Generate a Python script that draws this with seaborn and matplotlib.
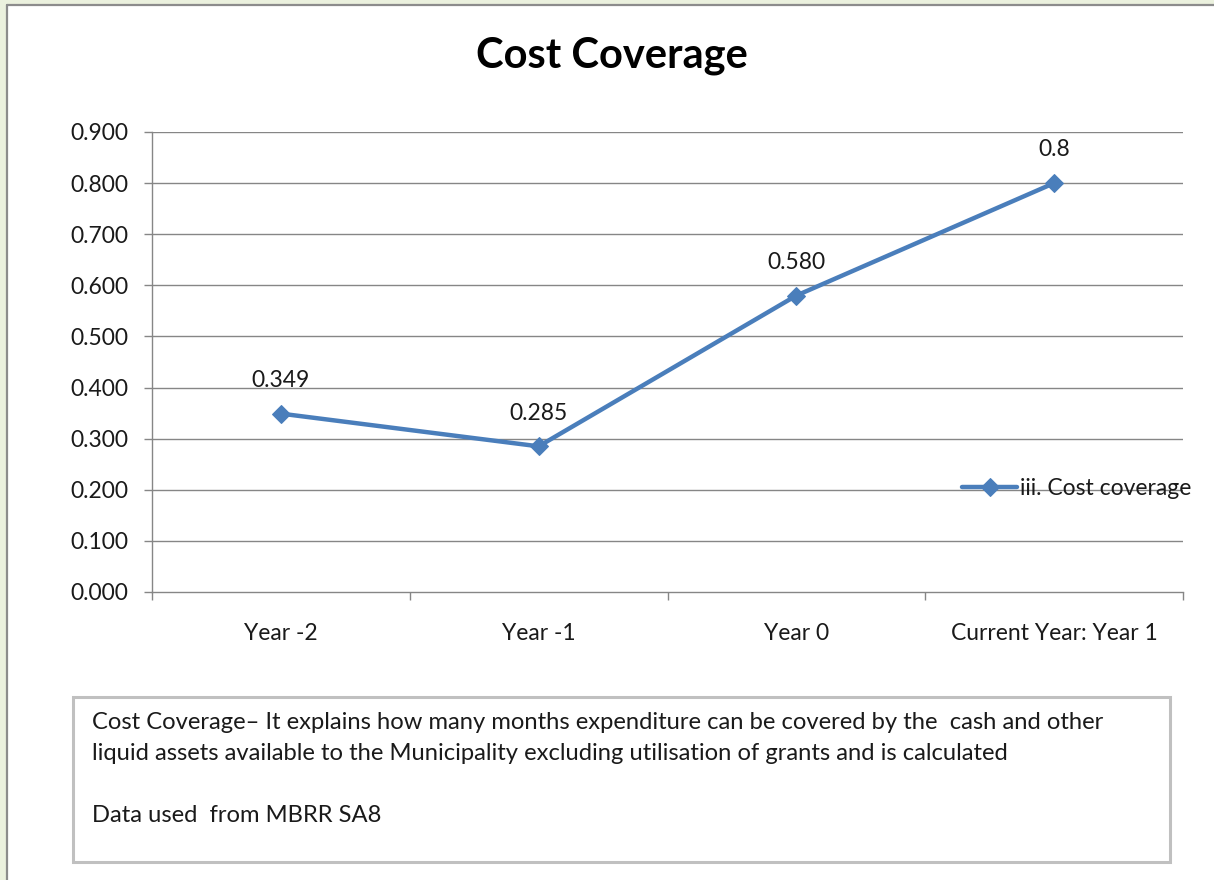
import matplotlib
matplotlib.use("Agg")
import matplotlib.pyplot as plt
from matplotlib.patches import Rectangle
from matplotlib.lines import Line2D
import seaborn as sns
import pandas as pd

# Cost coverage ratio per financial year
years = ["Year -2", "Year -1", "Year 0", "Current Year: Year 1"]
coverage = [0.349, 0.285, 0.580, 0.8]
value_labels = ["0.349", "0.285", "0.580", "0.8"]
y_ticks = [0.0, 0.1, 0.2, 0.3, 0.4, 0.5, 0.6, 0.7, 0.8, 0.9]
series_name = "iii. Cost coverage"
note_lines = [
    "Cost Coverage\u2013 It explains how many months expenditure can be covered by the  cash and other",
    "liquid assets available to the Municipality excluding utilisation of grants and is calculated",
    "",
    "Data used  from MBRR SA8",
]

sns.set_theme(style="white")
plt.rcParams["font.family"] = ["Lato", "DejaVu Sans"]

LINE_BLUE = "#4a7ebb"
GRID = "#868686"
TEXT = "#1a1a1a"
FS = 16.5
NOTE_FS = 17.1

W, H = 1214, 880
fig = plt.figure(figsize=(W / 100, H / 100), dpi=100)
fig.patch.set_facecolor("#ebf1de")

# white chart area with grey border on top and left
fig.patches.append(Rectangle((7 / W, 0), 1 - 7 / W, 1 - 5 / H, transform=fig.transFigure,
                             facecolor="white", edgecolor="none", zorder=-10))
fig.lines.append(Line2D([7 / W, 7 / W], [0, 1 - 5 / H], transform=fig.transFigure,
                        color="#8c8c8c", lw=1.6))
fig.lines.append(Line2D([7 / W, 1], [1 - 5 / H, 1 - 5 / H], transform=fig.transFigure,
                        color="#8c8c8c", lw=1.6))

ax = fig.add_axes([152 / W, 1 - 592 / H, (1183 - 152) / W, (592 - 132) / H])
ax.set_facecolor("none")

df = pd.DataFrame({"year": years, "coverage": coverage})
sns.lineplot(data=df, x="year", y="coverage", sort=False, ax=ax, color=LINE_BLUE,
             lw=3.2, marker="D", markersize=9, markeredgecolor=LINE_BLUE,
             label=series_name, zorder=3)

ax.set_xlim(-0.5, len(years) - 0.5)
ax.set_ylim(0, 0.9)
ax.set_yticks(y_ticks)
ax.set_yticklabels([f"{v:.3f}" for v in y_ticks])
ax.set_xticks(range(len(years)))
ax.set_xticklabels(years)
ax.set_xlabel("")
ax.set_ylabel("")

for v in y_ticks[1:]:
    ax.axhline(v, color=GRID, lw=1.0, zorder=1)

for s in ["top", "right"]:
    ax.spines[s].set_visible(False)
for s in ["left", "bottom"]:
    ax.spines[s].set_color(GRID)
    ax.spines[s].set_linewidth(1.0)

# category boundary ticks on the x axis
ax.set_xticks([i - 0.5 for i in range(len(years) + 1)], minor=True)
ax.tick_params(axis="x", which="major", length=0, pad=22, labelsize=FS, labelcolor=TEXT)
ax.tick_params(axis="x", which="minor", length=6, width=1.0, color=GRID, direction="out",
               bottom=True)
ax.tick_params(axis="y", which="major", length=6, width=1.0, color=GRID, direction="out",
               left=True, pad=11, labelsize=FS, labelcolor=TEXT)

for i, (v, lab) in enumerate(zip(coverage, value_labels)):
    ax.annotate(lab, (i, v), xytext=(0, 24), textcoords="offset points", ha="center",
                va="center", fontsize=FS, color=TEXT)

leg = ax.legend(loc="center left", bbox_to_anchor=(0.777, 0.226), frameon=False,
                fontsize=FS, handlelength=2.4, handletextpad=0.1, borderaxespad=0)
for t in leg.get_texts():
    t.set_color(TEXT)

fig.text(612 / W, 1 - 56 / H, "Cost Coverage", ha="center", va="center",
         fontsize=30, fontweight="bold", color="black")

# explanatory note box
fig.patches.append(Rectangle((73 / W, 1 - 862 / H), (1170 - 73) / W, (862 - 697) / H,
                             transform=fig.transFigure, facecolor="white",
                             edgecolor="#c0c0c0", lw=2.2))
y0 = 722
for k, line in enumerate(note_lines):
    if line:
        fig.text(92 / W, 1 - (y0 + 31 * k) / H, line, ha="left", va="center",
                 fontsize=NOTE_FS, color=TEXT)

fig.savefig("out.png", dpi=100, facecolor=fig.get_facecolor())
